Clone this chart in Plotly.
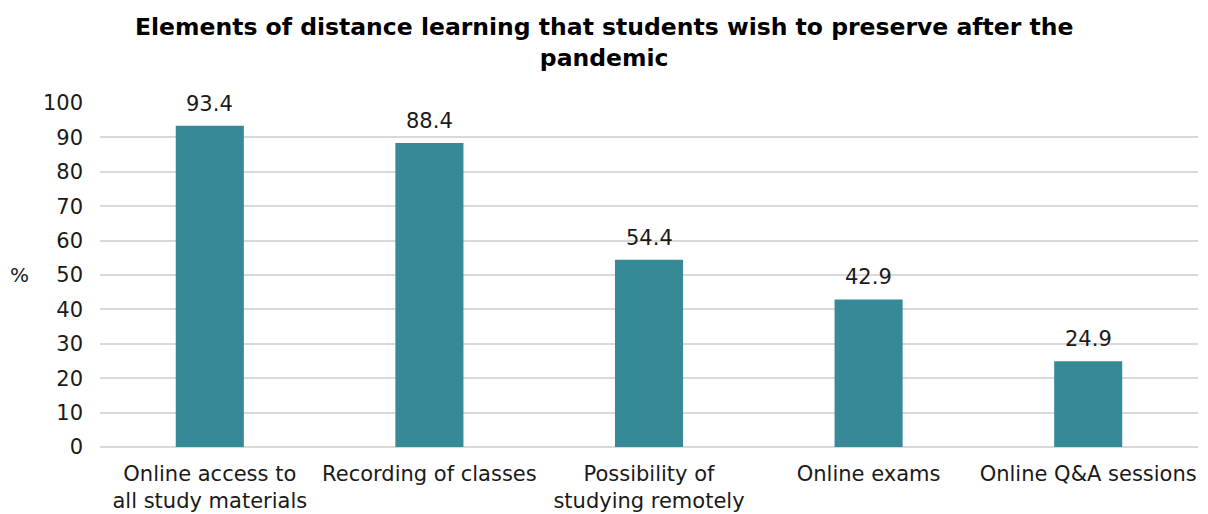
import plotly.graph_objects as go

categories = ["Online access to<br>all study materials", "Recording of classes",
              "Possibility of<br>studying remotely", "Online exams", "Online Q&A sessions"]
values = [93.4, 88.4, 54.4, 42.9, 24.9]
labels = ["93.4", "88.4", "54.4", "42.9", "24.9"]
y_ticks = [0, 10, 20, 30, 40, 50, 60, 70, 80, 90, 100]

FONT = "DejaVu Sans, Verdana, sans-serif"

fig = go.Figure(go.Bar(
    x=categories, y=values,
    marker=dict(color="#368a97", line=dict(width=0)),
))

annotations = [dict(x=c, y=v, text=t, xref="x", yref="y", showarrow=False,
                    xanchor="center", yanchor="bottom", yshift=8,
                    font=dict(size=21, family=FONT, color="#1a1a1a"))
               for c, v, t in zip(categories, values, labels)]
annotations.append(dict(text="%", xref="paper", yref="paper", x=-0.073, y=0.5,
                        xanchor="center", yanchor="middle", showarrow=False,
                        font=dict(size=20, family=FONT, color="#1a1a1a")))
annotations.append(dict(text="<b>Elements of distance learning that students wish to preserve after the<br>pandemic</b>",
                        xref="paper", yref="paper", x=0.459, y=1.175,
                        xanchor="center", yanchor="middle", showarrow=False,
                        font=dict(size=23.5, family=FONT, color="#000000")))

fig.update_layout(
    width=1208, height=514,
    margin=dict(l=100, r=10, t=103, b=67, autoexpand=False),
    paper_bgcolor="white", plot_bgcolor="white",
    bargap=0.69,
    font=dict(family=FONT, size=21, color="#1a1a1a"),
    showlegend=False,
    xaxis=dict(showline=False, ticks="", ticklabelstandoff=12, automargin=False,
               tickfont=dict(size=21, family=FONT, color="#1a1a1a")),
    yaxis=dict(range=[0, 100], tickvals=y_ticks, showgrid=True, gridcolor="#d9d9d9",
               gridwidth=1.5, zeroline=True, zerolinecolor="#d9d9d9", zerolinewidth=1.5,
               ticks="", ticklabelstandoff=16, automargin=False,
               tickfont=dict(size=21, family=FONT, color="#1a1a1a")),
    annotations=annotations,
)

fig.write_html("out.html")
